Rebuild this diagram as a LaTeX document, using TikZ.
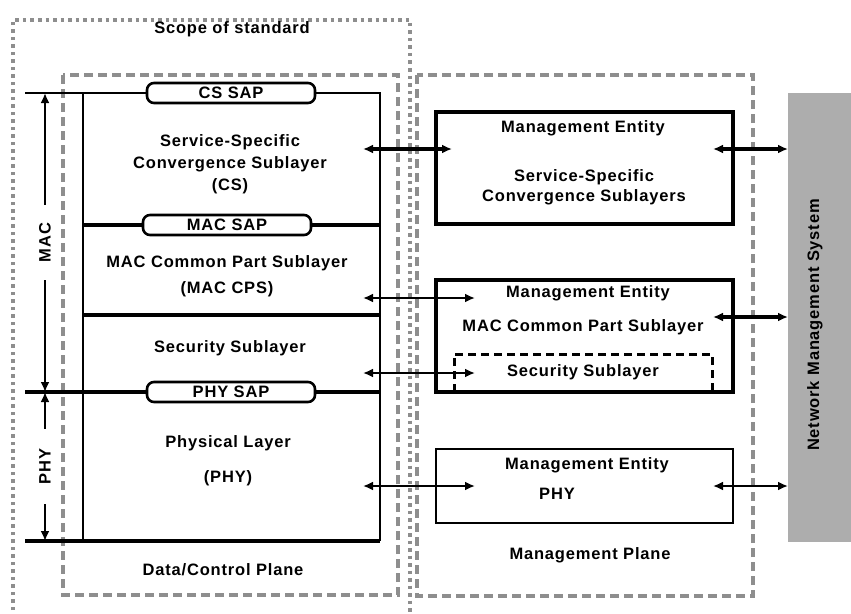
\documentclass[tikz,border=0pt]{standalone}
\usepackage{fontspec}
\setmainfont{Liberation Sans}[LetterSpace=5]
\usetikzlibrary{arrows.meta}
\definecolor{dashgray}{HTML}{8E8E8E}
\definecolor{nmsgray}{HTML}{ADADAD}
\begin{document}
\begin{tikzpicture}[x=1pt,y=-1pt,
  txt/.style={font=\fontsize{16.5}{20}\selectfont\bfseries, inner sep=0pt, align=center},
  planebox/.style={draw=dashgray, line width=3.2pt, dash pattern=on 9pt off 5pt},
  scopebox/.style={draw=dashgray, line width=3.2pt, dash pattern=on 3.5pt off 4pt},
  layerline/.style={line width=2.6pt},
  sapline/.style={line width=3.2pt},
  sap/.style={draw, line width=2.6pt, fill=white, rounded corners=7pt,
    minimum width=168pt, minimum height=20pt, inner sep=0pt,
    font=\fontsize{16.5}{20}\selectfont\bfseries},
  mgmt/.style={draw, line width=3.4pt, inner sep=0pt},
  dbl/.style={{Latex[length=10pt,width=9pt]}-{Latex[length=10pt,width=9pt]}, line width=2.2pt},
  dblthick/.style={dbl, line width=3.4pt},
  dimarrow/.style={{Latex[length=10pt,width=9pt]}-{Latex[length=10pt,width=9pt]}, line width=2.2pt}
]
\clip (0,0) rectangle (851,613);
\fill[white] (0,0) rectangle (851,613);

% scope of standard
\draw[scopebox] (13,640) -- (13,20) -- (410,20) -- (410,640);
\node[txt] (scope) at (232,29) {Scope of standard};

% planes
\draw[planebox] (63,75) rectangle (398,595);
\draw[planebox] (417,75) rectangle (753,596);

% layer stack
\draw[layerline] (25,93) -- (380,93) -- (380,541);
\draw[layerline] (83,93) -- (83,541);
\draw[sapline] (25,541) -- (380,541);
\draw[sapline] (83,225) -- (380,225);
\draw[sapline] (83,315) -- (380,315);
\draw[sapline] (25,392) -- (380,392);

\node[sap] (cssap) at (231,93) {CS SAP};
\node[sap] (macsap) at (227,225) {MAC SAP};
\node[sap] (physap) at (231,392) {PHY SAP};

\node[txt, font=\fontsize{16.5}{22}\selectfont\bfseries] (cs) at (230,164) {Service-Specific\\Convergence Sublayer\\(CS)};
\node[txt] (cps) at (227,276) {MAC Common Part Sublayer\\[6pt](MAC CPS)};
\node[txt] (sec) at (230,348) {Security Sublayer};
\node[txt] (phy) at (228,461) {Physical Layer\\[15pt](PHY)};
\node[txt] (dcp) at (223,570) {Data/Control Plane};

% dimension arrows
\coordinate (macT) at (45,93);
\coordinate (macB) at (45,392);
\coordinate (phyB) at (45,541);
\draw[dimarrow] (macT) -- node[txt, fill=white, rotate=90, inner xsep=18pt, inner ysep=2pt] (maclbl) {MAC} (macB);
\draw[dimarrow] (macB) -- node[txt, fill=white, rotate=90, inner xsep=20pt, inner ysep=2pt] (phylbl) {PHY} (phyB);

% management entities
\node[mgmt, minimum width=297pt, minimum height=112pt] (me1) at (584.5,168) {};
\node[mgmt, minimum width=297pt, minimum height=112pt] (me2) at (584.5,336) {};
\node[mgmt, minimum width=297pt, minimum height=74pt, line width=2.8pt] (me3) at (584.5,486) {};

\node[txt] (me1a) at (583,128) {Management Entity};
\node[txt] (me1b) at (584,187) {Service-Specific\\Convergence Sublayers};
\node[txt] (me2a) at (588,293) {Management Entity};
\node[txt] (me2b) at (583,327) {MAC Common Part Sublayer};
\draw[line width=3pt, dash pattern=on 8pt off 5pt] (454,392) -- (454,354) -- (712,354) -- (712,392);
\node[txt] (me2c) at (583,372) {Security Sublayer};
\node[txt] (me3a) at (587,465) {Management Entity};
\node[txt] (me3b) at (557,494) {PHY};
\node[txt] (mp) at (590,555) {Management Plane};

% network management system
\node[fill=nmsgray, minimum width=70pt, minimum height=449pt, inner sep=0pt, anchor=north west] (nms) at (788,93) {};
\node[txt, rotate=90] (nmst) at (815,325) {Network Management System};

% connectors
\coordinate (l1) at (363,149); \coordinate (r1) at (452,149);
\coordinate (m1) at (713,149);
\coordinate (l2) at (363,298); \coordinate (r2) at (475,298);
\coordinate (m2) at (713,317);
\coordinate (l3) at (363,373); \coordinate (r3) at (475,373);
\coordinate (l4) at (363,486); \coordinate (r4) at (475,486);
\coordinate (m4) at (713,486);

\draw[dblthick] (l1) -- (r1);
\draw[dblthick] (m1) -- (nms.west |- m1);
\draw[dbl] (l2) -- (r2);
\draw[dblthick] (m2) -- (nms.west |- m2);
\draw[dbl] (l3) -- (r3);
\draw[dbl] (l4) -- (r4);
\draw[dbl, line width=2.6pt] (m4) -- (nms.west |- m4);
\end{tikzpicture}
\end{document}
